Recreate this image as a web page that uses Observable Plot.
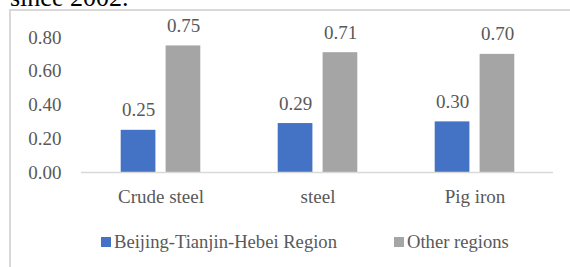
<!DOCTYPE html>
<html>
<head>
<meta charset="utf-8">
<script src="https://cdn.jsdelivr.net/npm/d3@7"></script>
<script src="https://cdn.jsdelivr.net/npm/@observablehq/plot@0.6"></script>
<style>
  html, body { margin: 0; padding: 0; background: #fff; }
  body { width: 570px; height: 267px; position: relative; overflow: hidden; font-family: "Liberation Serif", "Times New Roman", serif; }
  #title { position: absolute; left: 10px; top: -15px; font-size: 26px; line-height: 26px; color: #000; white-space: nowrap; }
  #frame { position: absolute; left: 9px; top: 9px; width: 600px; height: 300px; border-left: 2px solid #d9d9d9; border-top: 2px solid #d9d9d9; box-sizing: border-box; }
  #chart { position: absolute; left: 0; top: 0; }
  #legend { position: absolute; top: 232px; left: 0; width: 570px; height: 20px; font-size: 18.6px; color: #595959; }
  .item { position: absolute; top: 0; height: 20px; line-height: 20px; white-space: nowrap; }
  .sw { position: absolute; width: 10px; height: 10px; top: 5px; }
  .lbl { position: absolute; left: 13px; top: 0; }
</style>
</head>
<body>
<div id="title">since 2002.</div>
<div id="frame"></div>
<div id="chart"></div>
<div id="legend"></div>
<script>
const categories = ["Crude steel", "steel", "Pig iron"];
const seriesNames = ["Beijing-Tianjin-Hebei Region", "Other regions"];
const bjh = [0.25, 0.29, 0.30];
const other = [0.75, 0.71, 0.70];
const yTicks = [0, 0.2, 0.4, 0.6, 0.8];
const colors = ["#4472C4", "#A5A5A5"];

const rowsA = categories.map((c, i) => ({category: c, value: bjh[i]}));
const rowsB = categories.map((c, i) => ({category: c, value: other[i]}));
const fmt = d3.format(".2f");

const plot = Plot.plot({
  width: 570,
  height: 207,
  marginLeft: 81,
  marginRight: 17,
  marginTop: 37,
  marginBottom: 35,
  style: {fontFamily: "'Liberation Serif', 'Times New Roman', serif", fontSize: "19px", color: "#595959", background: "transparent"},
  x: {domain: categories, padding: 0},
  y: {domain: [0, 0.8]},
  marks: [
    Plot.barY(rowsA, {x: "category", y: "value", fill: colors[0], insetLeft: 38.7, insetRight: 83.6}),
    Plot.barY(rowsB, {x: "category", y: "value", fill: colors[1], insetLeft: 83.6, insetRight: 38.7}),
    Plot.ruleY([0], {stroke: "#d9d9d9", strokeWidth: 1.5}),
    Plot.text(rowsA, {x: "category", y: "value", text: d => fmt(d.value), dx: -22.5, dy: -20, fill: "#595959", fontSize: 19}),
    Plot.text(rowsB, {x: "category", y: "value", text: d => fmt(d.value), dx: 22.5, dy: -20, fill: "#595959", fontSize: 19}),
    Plot.axisY({ticks: yTicks, tickFormat: fmt, tickSize: 0, tickPadding: 20, label: null, fill: "#595959", fontSize: 19}),
    Plot.axisX({tickSize: 0, tickPadding: 17, label: null, fill: "#595959", fontSize: 19})
  ]
});
document.getElementById("chart").appendChild(plot);

const legend = document.getElementById("legend");
const legendX = [101, 394];
seriesNames.forEach((name, i) => {
  const item = document.createElement("div");
  item.className = "item";
  item.style.left = legendX[i] + "px";
  const sw = document.createElement("div");
  sw.className = "sw";
  sw.style.background = colors[i];
  const lbl = document.createElement("div");
  lbl.className = "lbl";
  lbl.textContent = name;
  item.appendChild(sw);
  item.appendChild(lbl);
  legend.appendChild(item);
});
</script>
</body>
</html>
